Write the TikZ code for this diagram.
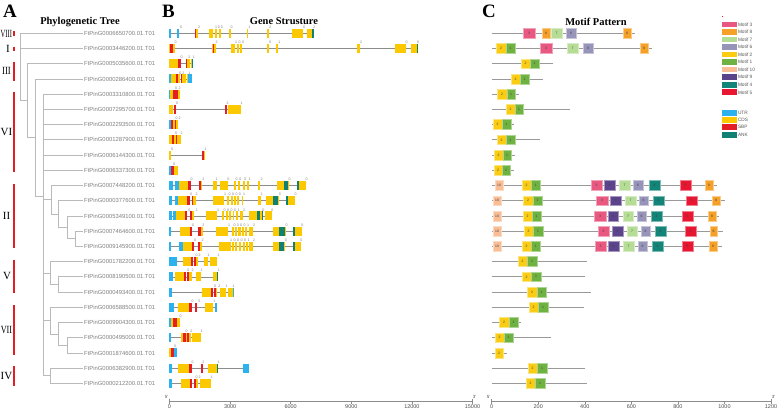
\documentclass[tikz,border=0pt]{standalone}
\usepackage{fontspec}
\usepackage{graphicx}
\setmainfont{Liberation Serif}
\setsansfont{Liberation Sans}
\definecolor{utr}{RGB}{45,178,240}
\definecolor{cds}{RGB}{252,200,0}
\definecolor{sbp}{RGB}{228,30,38}
\definecolor{ank}{RGB}{16,128,115}
\definecolor{mthree}{RGB}{233,88,128}
\definecolor{meight}{RGB}{245,160,40}
\definecolor{mseven}{RGB}{182,221,150}
\definecolor{msix}{RGB}{150,148,185}
\definecolor{mtwo}{RGB}{250,205,20}
\definecolor{mone}{RGB}{110,178,65}
\definecolor{mten}{RGB}{250,190,150}
\definecolor{mnine}{RGB}{92,68,140}
\definecolor{mfour}{RGB}{18,132,120}
\definecolor{mfive}{RGB}{232,22,48}
\definecolor{cladered}{RGB}{225,30,35}
\tikzset{
  tree/.style={draw=black!27, line width=0.7bp},
  leaf/.style={anchor=west, inner sep=0.5bp, font=\sffamily\fontsize{5.9}{6}\selectfont, text=black!50},
  clade/.style={font=\fontsize{11}{11}\selectfont, inner sep=0},
  cladebar/.style={draw=cladered, line width=2.4bp},
  panel/.style={anchor=base west, inner sep=0, font=\bfseries\fontsize{19}{19}\selectfont},
  ptitle/.style={anchor=base, inner sep=0, font=\bfseries\fontsize{10.5}{11}\selectfont},
  intron/.style={draw=black!45, line width=0.6bp},
  mline/.style={draw=black!40, line width=0.8bp},
  phase/.style={anchor=south, inner sep=0.2bp, font=\sffamily\fontsize{3.6}{4}\selectfont, text=black!50},
  mnum/.style={inner sep=0, font=\sffamily\fontsize{3.4}{4}\selectfont, text=black!75},
  axis/.style={draw=black!45, line width=0.6bp},
  ticklab/.style={anchor=north, inner sep=0.5bp, font=\sffamily\fontsize{5.5}{6}\selectfont, text=black!70},
  endlab/.style={inner sep=0, font=\sffamily\fontsize{4.5}{5}\selectfont, text=black!70},
  legtext/.style={anchor=west, inner sep=0.5bp, font=\sffamily\fontsize{4.8}{5}\selectfont, text=black!65},
}
\newcommand\gline[3]{\draw[intron] (#2,{18.08+15.22*#1}) -- (#3,{18.08+15.22*#1});}
\newcommand\gbox[4]{\fill[#4] (#2,{18.08+15.22*#1-4.5}) rectangle (#3,{18.08+15.22*#1+4.5});}
\newcommand\gph[3]{\node[phase] at (#2,{18.08+15.22*#1-4.5}) {#3};}
\newcommand\mln[2]{\draw[mline] (491.7,{18.08+15.22*#1}) -- (#2,{18.08+15.22*#1});}
\newcommand\mbx[5]{\filldraw[fill=#4, draw=#4!55!white, line width=0.5bp] (#2,{18.08+15.22*#1-4.9}) rectangle (#3,{18.08+15.22*#1+4.9}); \node[mnum] at ({(#2+#3)/2},{18.08+15.22*#1}) {#5};}
\newcommand\legbox[3]{\fill[#2] (721.7,#1-2.9) rectangle (736.7,#1+2.9); \node[legtext] at (737.3,#1) {#3};}
\begin{document}
\begin{tikzpicture}[x=1bp,y=-1bp]
\useasboundingbox (0,0) rectangle (778,412);
% panel letters and titles
\node[panel] (pa) at (3,17) {A};
\node[panel] (pb) at (162,17) {B};
\node[panel] (pc) at (482,17) {C};
\node[ptitle] (ta) at (80,24) {Phylogenetic Tree};
\node[ptitle] (tb) at (284,24) {Gene Strusture};
\node[ptitle] (tc) at (596,25) {Motif Pattern};
% ---------------- tree ----------------
\foreach \i/\nm in {1/0006650700,2/0003446200,3/0005035600,4/0000286400,5/0003310800,6/0007295700,7/0002293500,8/0001287900,9/0006144300,10/0006337300,11/0007448200,12/0000377600,13/0005349100,14/0007464600,15/0009145900,16/0001782200,17/0008190500,18/0000493400,19/0006588500,20/0009904300,21/0000495000,22/0001874600,23/0006382900,24/0000212200}{
  \coordinate (L\i) at (83,{18.08+15.22*\i});
  \node[leaf] (lab\i) at (83.5,{18.08+15.22*\i}) {FtPinG\nm.01.T01};
}
\coordinate (R) at (20,60.8);
\coordinate (nA) at (27,100.65);
\coordinate (nB) at (35,137.6);
\coordinate (nC) at (43,196.25);
\coordinate (nII1) at (51,199.75);
\coordinate (nII2) at (58,214.0);
\coordinate (nII3) at (67,227.35);
\coordinate (nII4) at (75,238.8);
\coordinate (nV1) at (50,273.0);
\coordinate (nV2) at (58,284.4);
\coordinate (nVII1) at (50,320.6);
\coordinate (nVII2) at (58,333.9);
\coordinate (nVII3) at (67,345.3);
\coordinate (nIV) at (50,375.75);
\draw[tree] (R) |- (L1); \draw[tree] (R) |- (L2); \draw[tree] (R) |- (nA);
\draw[tree] (nA) |- (L3); \draw[tree] (nA) |- (nB);
\draw[tree] (nB) |- (L4); \draw[tree] (nB) |- (nC);
\foreach \i in {5,...,10}{\draw[tree] (nC) |- (L\i);}
\draw[tree] (nC) |- (nII1); \draw[tree] (nC) |- (nV1); \draw[tree] (nC) |- (nVII1); \draw[tree] (nC) |- (nIV);
\draw[tree] (nII1) |- (L11); \draw[tree] (nII1) |- (nII2);
\draw[tree] (nII2) |- (L12); \draw[tree] (nII2) |- (nII3);
\draw[tree] (nII3) |- (L13); \draw[tree] (nII3) |- (nII4);
\draw[tree] (nII4) |- (L14); \draw[tree] (nII4) |- (L15);
\draw[tree] (nV1) |- (L16); \draw[tree] (nV1) |- (nV2);
\draw[tree] (nV2) |- (L17); \draw[tree] (nV2) |- (L18);
\draw[tree] (nVII1) |- (L19); \draw[tree] (nVII1) |- (nVII2);
\draw[tree] (nVII2) |- (L20); \draw[tree] (nVII2) |- (nVII3);
\draw[tree] (nVII3) |- (L21); \draw[tree] (nVII3) |- (L22);
\draw[tree] (nIV) |- (L23); \draw[tree] (nIV) |- (L24);
% clade bars and labels
\draw[cladebar] (14,31) -- (14,36);
\draw[cladebar] (14,46.5) -- (14,51);
\draw[cladebar] (14,61.5) -- (14,81);
\draw[cladebar] (14,92) -- (14,172);
\draw[cladebar] (14,184) -- (14,248);
\draw[cladebar] (14,260) -- (14,293);
\draw[cladebar] (14,305) -- (14,355);
\draw[cladebar] (14,366) -- (14,386);
\node[clade] (cVIII) at (6.3,33.5) {\scalebox{0.6}[1]{VIII}};
\node[clade] (cI) at (8,49) {I};
\node[clade] (cIII) at (6.5,71) {\scalebox{0.8}[1]{III}};
\node[clade] (cVI) at (6.5,132) {VI};
\node[clade] (cII) at (6.5,216) {II};
\node[clade] (cV) at (7,276) {V};
\node[clade] (cVII) at (6.5,330) {\scalebox{0.75}[1]{VII}};
\node[clade] (cIV) at (6.5,376) {IV};
% ---------------- gene structures ----------------
% row 1
\gline{1}{169.3}{313.5}
\gbox{1}{169.3}{170.6}{utr}\gbox{1}{177.3}{178.7}{utr}
\gbox{1}{194.5}{197.5}{cds}\gbox{1}{194.8}{196.4}{sbp}
\gbox{1}{209.3}{213}{cds}\gbox{1}{215}{216.7}{cds}\gbox{1}{219}{220.7}{cds}
\gbox{1}{229}{230.7}{cds}\gbox{1}{246.7}{248.3}{cds}\gbox{1}{266.7}{269}{cds}
\gbox{1}{292}{303}{cds}\gbox{1}{307}{312.3}{cds}\gbox{1}{312.3}{313.5}{ank}
\gph{1}{181}{0}\gph{1}{199}{2}\gph{1}{216.2}{1}\gph{1}{218.8}{0}\gph{1}{221.8}{0}\gph{1}{231.5}{0}\gph{1}{249.3}{1}\gph{1}{270}{2}\gph{1}{304}{0}\gph{1}{314}{2}
% row 2
\gline{2}{169.3}{417.5}
\gbox{2}{169.3}{174.5}{cds}\gbox{2}{170.3}{173}{sbp}
\gbox{2}{212.3}{215.5}{cds}\gbox{2}{212.6}{214.2}{sbp}
\gbox{2}{231}{235.3}{cds}\gbox{2}{236.7}{238.7}{cds}\gbox{2}{240.3}{242.3}{cds}
\gbox{2}{267.3}{269.3}{cds}\gbox{2}{276}{278.3}{cds}\gbox{2}{357.3}{360}{cds}
\gbox{2}{395}{405.7}{cds}\gbox{2}{410.7}{416.7}{cds}\gbox{2}{416.7}{417.7}{ank}
\gph{2}{175.5}{0}\gph{2}{216.5}{2}\gph{2}{236}{1}\gph{2}{239.5}{0}\gph{2}{243.2}{0}\gph{2}{270.3}{0}\gph{2}{279.3}{1}\gph{2}{361}{2}\gph{2}{406.5}{0}\gph{2}{418}{0}
% row 3
\gline{3}{169.3}{193.3}
\gbox{3}{169.3}{178.3}{cds}\gbox{3}{178.3}{180.7}{sbp}\gbox{3}{185.7}{187.3}{sbp}
\gbox{3}{187.3}{190.3}{cds}\gbox{3}{190.8}{192.3}{cds}\gbox{3}{192.3}{193.3}{ank}
\gph{3}{181.5}{0}\gph{3}{189.3}{2}\gph{3}{193.5}{1}
% row 4
\gline{4}{169.3}{192.3}
\gbox{4}{169.3}{170.5}{utr}\gbox{4}{170.5}{176}{cds}\gbox{4}{176}{178}{sbp}\gbox{4}{178}{180}{cds}
\gbox{4}{180.5}{182.3}{sbp}\gbox{4}{182.3}{186}{cds}\gbox{4}{187}{188.3}{cds}\gbox{4}{188.3}{192.3}{utr}
\gph{4}{180.3}{0}\gph{4}{183.3}{2}\gph{4}{189.3}{1}
% row 5
\gline{5}{169.3}{180}
\gbox{5}{169.3}{170.3}{utr}\gbox{5}{170.3}{173.3}{cds}\gbox{5}{173.3}{175.7}{sbp}\gbox{5}{176.3}{178}{sbp}\gbox{5}{178}{180}{cds}
\gph{5}{176}{0}\gph{5}{179.5}{2}
% row 6
\gline{6}{169.3}{240.7}
\gbox{6}{169.3}{173.3}{cds}\gbox{6}{173.5}{175.7}{sbp}\gbox{6}{225}{226.7}{sbp}\gbox{6}{228.3}{240.7}{cds}
\gph{6}{177}{0}\gph{6}{227.5}{2}\gph{6}{241.7}{1}
% row 7
\gline{7}{169.3}{178.3}
\gbox{7}{169.3}{171}{utr}\gbox{7}{171}{173.3}{sbp}\gbox{7}{173.3}{174.5}{cds}\gbox{7}{174.5}{176.3}{sbp}\gbox{7}{176.3}{178.3}{cds}
\gph{7}{176.5}{0}\gph{7}{179.5}{2}
% row 8
\gline{8}{169.3}{181}
\gbox{8}{169.3}{172.3}{cds}\gbox{8}{172.3}{174.3}{sbp}\gbox{8}{174.3}{175.5}{cds}\gbox{8}{175.5}{177.3}{sbp}\gbox{8}{177.3}{181}{cds}
\gph{8}{176}{0}\gph{8}{181.5}{2}
% row 9
\gline{9}{169.3}{205}
\gbox{9}{169.3}{171}{cds}\gbox{9}{202}{203.5}{sbp}\gbox{9}{203.5}{205}{cds}
\gph{9}{172}{0}\gph{9}{205.5}{1}
% row 10
\gline{10}{169.3}{177.5}
\gbox{10}{169.3}{170.5}{utr}\gbox{10}{170.5}{173.5}{sbp}\gbox{10}{173.5}{177.5}{cds}
\gph{10}{174}{0}
% row 11
\gline{11}{169.3}{306}
\gbox{11}{169.3}{172.7}{utr}\gbox{11}{175}{179.3}{utr}\gbox{11}{179.3}{188.3}{cds}\gbox{11}{188.3}{190.7}{sbp}
\gbox{11}{199}{200.7}{sbp}\gbox{11}{200.7}{201.5}{cds}
\gbox{11}{213.3}{216.7}{cds}\gbox{11}{220}{228.3}{cds}\gbox{11}{234}{236}{cds}\gbox{11}{238.3}{240}{cds}\gbox{11}{243.3}{245}{cds}\gbox{11}{247.3}{249.3}{cds}
\gbox{11}{258.3}{260}{cds}\gbox{11}{276.7}{284}{cds}\gbox{11}{284}{288.3}{ank}\gbox{11}{288.3}{289.3}{cds}
\gbox{11}{297.3}{299.3}{ank}\gbox{11}{299.3}{306}{cds}
\gph{11}{191.7}{0}\gph{11}{203.3}{2}\gph{11}{216.7}{1}\gph{11}{228.3}{0}\gph{11}{236.7}{0}\gph{11}{240.3}{0}\gph{11}{245.3}{0}\gph{11}{249.5}{1}\gph{11}{261.7}{2}\gph{11}{289.5}{0}\gph{11}{306.7}{0}
% row 12
\gline{12}{169.3}{295}
\gbox{12}{169.3}{171.7}{utr}\gbox{12}{175}{178.3}{utr}\gbox{12}{178.3}{188.3}{cds}\gbox{12}{187.3}{190}{sbp}
\gbox{12}{191.7}{193.3}{sbp}\gbox{12}{193.3}{196}{cds}
\gbox{12}{213.3}{224}{cds}\gbox{12}{226.7}{229}{cds}\gbox{12}{230.7}{232.7}{cds}\gbox{12}{234}{236}{cds}\gbox{12}{237.3}{239.3}{cds}\gbox{12}{241.7}{243.3}{cds}
\gbox{12}{258.3}{260.7}{cds}\gbox{12}{266}{273.3}{cds}\gbox{12}{273.3}{278.3}{ank}\gbox{12}{278.3}{279.3}{cds}
\gbox{12}{286}{287.7}{ank}\gbox{12}{287.7}{295}{cds}
\gph{12}{191}{0}\gph{12}{196.7}{2}\gph{12}{225}{1}\gph{12}{229.5}{0}\gph{12}{233}{0}\gph{12}{236.5}{0}\gph{12}{239.8}{0}\gph{12}{244}{1}\gph{12}{261.5}{2}\gph{12}{279.8}{0}\gph{12}{295.5}{0}
% row 13
\gline{13}{169.3}{271.7}
\gbox{13}{169.3}{171.7}{utr}\gbox{13}{173.3}{176}{utr}\gbox{13}{176}{185}{cds}\gbox{13}{185}{187.3}{sbp}
\gbox{13}{190}{192.3}{sbp}\gbox{13}{192.3}{194.3}{cds}
\gbox{13}{206}{217.3}{cds}\gbox{13}{221.7}{224}{cds}\gbox{13}{226}{227.7}{cds}\gbox{13}{229.3}{231}{cds}\gbox{13}{232.7}{234.3}{cds}\gbox{13}{236}{238.3}{cds}\gbox{13}{240}{243.3}{cds}
\gbox{13}{249.3}{256.7}{cds}\gbox{13}{256.7}{260}{ank}\gbox{13}{260}{261.5}{cds}\gbox{13}{261.5}{263}{ank}\gbox{13}{265}{271.7}{cds}
\gph{13}{189.3}{0}\gph{13}{196.7}{2}\gph{13}{218}{1}\gph{13}{224.7}{0}\gph{13}{228.2}{0}\gph{13}{231.7}{0}\gph{13}{235}{0}\gph{13}{238.8}{1}\gph{13}{244}{2}\gph{13}{263}{0}\gph{13}{272.3}{0}
% row 14
\gline{14}{169.3}{301.7}
\gbox{14}{169.3}{170.7}{utr}\gbox{14}{180}{190}{cds}\gbox{14}{190}{192.3}{sbp}
\gbox{14}{198.3}{200.7}{sbp}\gbox{14}{200.7}{202.7}{cds}
\gbox{14}{216}{228.3}{cds}\gbox{14}{231.7}{234}{cds}\gbox{14}{235}{237.3}{cds}\gbox{14}{238.3}{240.7}{cds}\gbox{14}{241.7}{244}{cds}\gbox{14}{245}{247.3}{cds}\gbox{14}{249.3}{253.3}{cds}
\gbox{14}{273.3}{279.3}{cds}\gbox{14}{279.3}{285}{ank}\gbox{14}{285}{286}{cds}
\gbox{14}{293.3}{295.3}{ank}\gbox{14}{295.3}{301.7}{cds}
\gph{14}{193}{0}\gph{14}{203.3}{2}\gph{14}{229}{1}\gph{14}{234.5}{0}\gph{14}{237.8}{0}\gph{14}{241.2}{0}\gph{14}{244.5}{0}\gph{14}{248}{1}\gph{14}{254}{2}\gph{14}{286.5}{0}\gph{14}{302.3}{0}
% row 15
\gline{15}{169.3}{300.7}
\gbox{15}{169.3}{170.7}{utr}\gbox{15}{179.3}{182.7}{utr}\gbox{15}{182.7}{191.7}{cds}\gbox{15}{191.7}{194}{sbp}
\gbox{15}{197.7}{200}{sbp}\gbox{15}{200}{201.7}{cds}
\gbox{15}{219.3}{230.7}{cds}\gbox{15}{231.7}{234}{cds}\gbox{15}{235.3}{237.3}{cds}\gbox{15}{239}{241}{cds}\gbox{15}{242.7}{244.7}{cds}\gbox{15}{246}{248.3}{cds}\gbox{15}{249.3}{253.3}{cds}
\gbox{15}{273.3}{279.3}{cds}\gbox{15}{279.3}{284.3}{ank}\gbox{15}{284.3}{285.3}{cds}
\gbox{15}{292.7}{294.7}{ank}\gbox{15}{294.7}{300.7}{cds}
\gph{15}{195}{0}\gph{15}{202.7}{2}\gph{15}{231.2}{1}\gph{15}{234.5}{0}\gph{15}{238}{0}\gph{15}{241.5}{0}\gph{15}{245.2}{0}\gph{15}{248.8}{1}\gph{15}{254}{2}\gph{15}{285.8}{0}\gph{15}{301.3}{0}
% row 16
\gline{16}{169.3}{217.3}
\gbox{16}{169.3}{176.7}{utr}\gbox{16}{183.3}{191}{cds}\gbox{16}{191}{193}{sbp}\gbox{16}{194.3}{196}{sbp}\gbox{16}{196}{198.3}{cds}
\gbox{16}{204}{208.3}{cds}\gbox{16}{210}{217.3}{cds}
\gph{16}{196.7}{0}\gph{16}{199.5}{2}\gph{16}{208.5}{1}\gph{16}{218.3}{1}
% row 17
\gline{17}{169.3}{218.3}
\gbox{17}{169.3}{172.7}{utr}\gbox{17}{175}{184}{cds}\gbox{17}{184}{186}{sbp}\gbox{17}{187.3}{189.3}{sbp}\gbox{17}{189.3}{191.7}{cds}
\gbox{17}{196}{200.7}{cds}\gbox{17}{212.7}{217.3}{cds}\gbox{17}{217.3}{218.3}{ank}
\gph{17}{188.3}{0}\gph{17}{192.7}{2}\gph{17}{201.7}{1}\gph{17}{218.5}{1}
% row 18
\gline{18}{169.3}{234}
\gbox{18}{169.3}{171.7}{utr}\gbox{18}{201.7}{210.7}{cds}\gbox{18}{210.7}{213.3}{sbp}\gbox{18}{214.3}{216}{sbp}\gbox{18}{216}{217.3}{cds}
\gbox{18}{220}{226}{cds}\gbox{18}{228.3}{232.7}{cds}\gbox{18}{232.7}{234}{utr}
\gph{18}{215}{0}\gph{18}{219.3}{2}\gph{18}{226.7}{1}\gph{18}{233.5}{1}
% row 19
\gline{19}{169.3}{217.3}
\gbox{19}{169.3}{174}{utr}\gbox{19}{178.3}{189.3}{cds}\gbox{19}{189.3}{191.7}{sbp}
\gbox{19}{195}{196.7}{sbp}\gbox{19}{205}{213.3}{cds}\gbox{19}{215}{217.3}{utr}
\gph{19}{192.7}{0}\gph{19}{199.3}{2}\gph{19}{214.3}{1}
% row 20
\gline{20}{169.3}{180}
\gbox{20}{169.3}{170.7}{utr}\gbox{20}{170.7}{173.3}{cds}\gbox{20}{173.3}{176.7}{sbp}\gbox{20}{176.7}{180}{cds}
\gph{20}{180.7}{0}
% row 21
\gline{21}{169.3}{200.7}
\gbox{21}{169.3}{170.7}{utr}\gbox{21}{180.7}{183.3}{cds}\gbox{21}{183.3}{186}{sbp}\gbox{21}{186}{187.3}{cds}
\gbox{21}{187.3}{189.3}{sbp}\gbox{21}{189.3}{191.2}{cds}\gbox{21}{192}{200.7}{cds}
\gph{21}{186.7}{0}\gph{21}{191.3}{2}\gph{21}{201.7}{1}
% row 22
\gline{22}{169.3}{177}
\gbox{22}{169.3}{170.5}{cds}\gbox{22}{170.5}{173.5}{sbp}\gbox{22}{173.5}{174}{cds}\gbox{22}{174}{177}{utr}
\gph{22}{175}{0}
% row 23
\gline{23}{169.3}{249.3}
\gbox{23}{169.3}{171.7}{utr}\gbox{23}{178.3}{189.3}{cds}\gbox{23}{189.3}{191.7}{sbp}
\gbox{23}{200.7}{202.7}{sbp}\gbox{23}{208.3}{217.3}{cds}\gbox{23}{217.3}{218.3}{ank}\gbox{23}{243.3}{249.3}{utr}
\gph{23}{192.7}{0}\gph{23}{203.3}{2}\gph{23}{218.5}{1}
% row 24
\gline{24}{169.3}{210.7}
\gbox{24}{169.3}{171.7}{utr}\gbox{24}{180.7}{190}{cds}\gbox{24}{190}{192.3}{sbp}
\gbox{24}{194}{196}{sbp}\gbox{24}{196}{198.3}{cds}\gbox{24}{200}{210.7}{cds}
\gph{24}{196.7}{0}\gph{24}{199.5}{2}\gph{24}{211.7}{1}
% gene axis
\draw[axis] (169.5,401) -- (472.5,401);
\foreach \k/\lab in {0/0,1/3000,2/6000,3/9000,4/12000,5/15000}{
  \draw[axis] ({169.5+60.6*\k},401) -- ({169.5+60.6*\k},403.5);
  \node[ticklab] at ({169.5+60.6*\k},403.8) {\lab};
}
\draw[axis] (169.5,398.5) -- (169.5,401); \draw[axis] (472.5,398.5) -- (472.5,401);
\node[endlab] at (166.5,397) {5'};
\node[endlab] at (474.5,397) {3'};
% ---------------- motifs ----------------
\mln{1}{635}\mbx{1}{523}{535}{mthree}{3}\mbx{1}{542}{550}{meight}{8}\mbx{1}{551}{562}{mseven}{7}\mbx{1}{566}{576}{msix}{6}\mbx{1}{623}{631}{meight}{8}
\mln{2}{652}\mbx{2}{496}{506}{mtwo}{2}\mbx{2}{506}{515}{mone}{1}\mbx{2}{540}{552}{mthree}{3}\mbx{2}{567}{578}{mseven}{7}\mbx{2}{583}{593}{msix}{6}\mbx{2}{640}{648}{meight}{8}
\mln{3}{553}\mbx{3}{521}{530}{mtwo}{2}\mbx{3}{530}{539}{mone}{1}
\mln{4}{543}\mbx{4}{511}{520}{mtwo}{2}\mbx{4}{520}{529}{mone}{1}
\mln{5}{519}\mbx{5}{497}{507}{mtwo}{2}\mbx{5}{507}{515}{mone}{1}
\mln{6}{570}\mbx{6}{506}{515}{mtwo}{2}\mbx{6}{515}{523}{mone}{1}
\mln{7}{514}\mbx{7}{493}{502}{mtwo}{2}\mbx{7}{502}{511}{mone}{1}
\mln{8}{540}\mbx{8}{497}{506}{mtwo}{2}\mbx{8}{506}{515}{mone}{1}
\mln{9}{515}\mbx{9}{494}{503}{mtwo}{2}\mbx{9}{503}{511}{mone}{1}
\mln{10}{514}\mbx{10}{494}{502}{mtwo}{2}\mbx{10}{502}{510}{mone}{1}
\mln{11}{717}\mbx{11}{495}{503}{mten}{10}\mbx{11}{522}{531}{mtwo}{2}\mbx{11}{531}{540}{mone}{1}\mbx{11}{591}{602}{mthree}{3}\mbx{11}{604}{615}{mnine}{9}\mbx{11}{619}{630}{mseven}{7}\mbx{11}{633}{643}{msix}{6}\mbx{11}{649}{660}{mfour}{4}\mbx{11}{680}{691}{mfive}{5}\mbx{11}{705}{713}{meight}{8}
\mln{12}{725}\mbx{12}{493}{501}{mten}{10}\mbx{12}{523}{533}{mtwo}{2}\mbx{12}{533}{542}{mone}{1}\mbx{12}{596}{608}{mthree}{3}\mbx{12}{610}{621}{mnine}{9}\mbx{12}{625}{636}{mseven}{7}\mbx{12}{639}{648}{msix}{6}\mbx{12}{653}{664}{mfour}{4}\mbx{12}{686}{697}{mfive}{5}\mbx{12}{712}{720}{meight}{8}
\mln{13}{719}\mbx{13}{493}{501}{mten}{10}\mbx{13}{523}{532}{mtwo}{2}\mbx{13}{532}{541}{mone}{1}\mbx{13}{594}{606}{mthree}{3}\mbx{13}{608}{618}{mnine}{9}\mbx{13}{623}{633}{mseven}{7}\mbx{13}{637}{646}{msix}{6}\mbx{13}{651}{662}{mfour}{4}\mbx{13}{682}{693}{mfive}{5}\mbx{13}{708}{716}{meight}{8}
\mln{14}{723}\mbx{14}{493}{501}{mten}{10}\mbx{14}{524}{533}{mtwo}{2}\mbx{14}{533}{543}{mone}{1}\mbx{14}{598}{609}{mthree}{3}\mbx{14}{612}{623}{mnine}{9}\mbx{14}{627}{637}{mseven}{7}\mbx{14}{641}{650}{msix}{6}\mbx{14}{655}{666}{mfour}{4}\mbx{14}{685}{696}{mfive}{5}\mbx{14}{710}{717}{meight}{8}
\mln{15}{722}\mbx{15}{493}{501}{mten}{10}\mbx{15}{522}{531}{mtwo}{2}\mbx{15}{531}{540}{mone}{1}\mbx{15}{595}{606}{mthree}{3}\mbx{15}{608}{619}{mnine}{9}\mbx{15}{623}{634}{mseven}{7}\mbx{15}{638}{647}{msix}{6}\mbx{15}{652}{663}{mfour}{4}\mbx{15}{682}{693}{mfive}{5}\mbx{15}{709}{717}{meight}{8}
\mln{16}{587}\mbx{16}{518}{527}{mtwo}{2}\mbx{16}{527}{537}{mone}{1}
\mln{17}{585}\mbx{17}{522}{531}{mtwo}{2}\mbx{17}{531}{541}{mone}{1}
\mln{18}{591}\mbx{18}{527}{537}{mtwo}{2}\mbx{18}{537}{546}{mone}{1}
\mln{19}{584}\mbx{19}{529}{538}{mtwo}{2}\mbx{19}{538}{548}{mone}{1}
\mln{20}{521}\mbx{20}{499}{509}{mtwo}{2}\mbx{20}{509}{518}{mone}{1}
\mln{21}{551}\mbx{21}{495}{504}{mtwo}{2}\mbx{21}{504}{513}{mone}{1}
\mln{22}{507}\mbx{22}{495}{503}{mtwo}{2}
\mln{23}{585}\mbx{23}{528}{537}{mtwo}{2}\mbx{23}{537}{547}{mone}{1}
\mln{24}{587}\mbx{24}{526}{535}{mtwo}{2}\mbx{24}{535}{545}{mone}{1}
% motif axis
\draw[axis] (491.7,401) -- (771,401);
\foreach \k/\lab in {0/0,1/200,2/400,3/600,4/800,5/1000,6/1200}{
  \draw[axis] ({491.7+46.55*\k},401) -- ({491.7+46.55*\k},403.5);
  \node[ticklab] at ({491.7+46.55*\k},403.8) {\lab};
}
\draw[axis] (491.7,398.5) -- (491.7,401); \draw[axis] (771,398.5) -- (771,401);
\node[endlab] at (488.5,397) {5'};
\node[endlab] at (773.5,397) {3'};
% ---------------- legend ----------------
\fill[cladered] (721.8,15.5) rectangle (722.8,16.5);
\legbox{24.5}{mthree}{Motif 3}
\legbox{32}{meight}{Motif 8}
\legbox{39.5}{mseven}{Motif 7}
\legbox{47}{msix}{Motif 6}
\legbox{54.5}{mtwo}{Motif 2}
\legbox{62}{mone}{Motif 1}
\legbox{69.5}{mten}{Motif 10}
\legbox{77}{mnine}{Motif 9}
\legbox{84.7}{mfour}{Motif 4}
\legbox{92.3}{mfive}{Motif 5}
\legbox{112.7}{utr}{UTR}
\legbox{120}{cds}{CDS}
\legbox{127.3}{sbp}{SBP}
\legbox{135}{ank}{ANK}
\end{tikzpicture}
\end{document}
